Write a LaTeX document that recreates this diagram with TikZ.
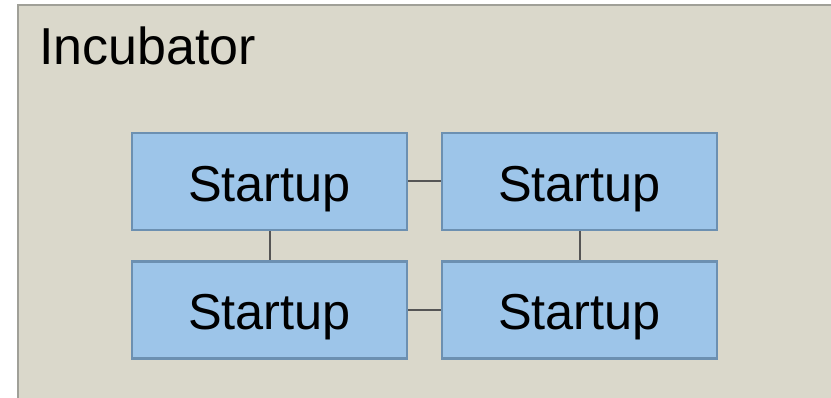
\documentclass[tikz,border=0pt]{standalone}
\usepackage{fontspec}
\setmainfont{Liberation Sans}
\definecolor{bgfill}{RGB}{218,216,203}
\definecolor{bgline}{RGB}{160,160,152}
\definecolor{boxfill}{RGB}{157,197,233}
\definecolor{boxline}{RGB}{108,144,177}
\definecolor{linkc}{RGB}{85,85,85}
\begin{document}
\begin{tikzpicture}[x=1pt,y=1pt,
  stbox/.style={draw=boxline, fill=boxfill, line width=2.2pt, minimum width=275pt, minimum height=97pt,
    inner sep=0pt, text height=40pt, text depth=0pt, font=\fontsize{50.5}{60}\selectfont},
  link/.style={draw=linkc, line width=2pt}]
\useasboundingbox (0,0) rectangle (831,398);
\fill[white] (0,0) rectangle (831,398);
\begin{scope}
\clip (0,0) rectangle (831,398);
\draw[draw=bgline, fill=bgfill, line width=2pt] (18,-20) rectangle (860,393);
\end{scope}
\node[anchor=base west, inner sep=0pt, font=\fontsize{52}{60}\selectfont] (title) at (39,333) {Incubator};
\node[stbox] (s1) at (269.5,216.5) {Startup};
\node[stbox] (s2) at (579.5,216.5) {Startup};
\node[stbox] (s3) at (269.5,88) {Startup};
\node[stbox] (s4) at (579.5,88) {Startup};
\draw[link] (s1.east) -- (s2.west);
\draw[link] (s3.east) -- (s4.west);
\draw[link] (s1.south) -- (s3.north);
\draw[link] (s2.south) -- (s4.north);
\end{tikzpicture}
\end{document}
